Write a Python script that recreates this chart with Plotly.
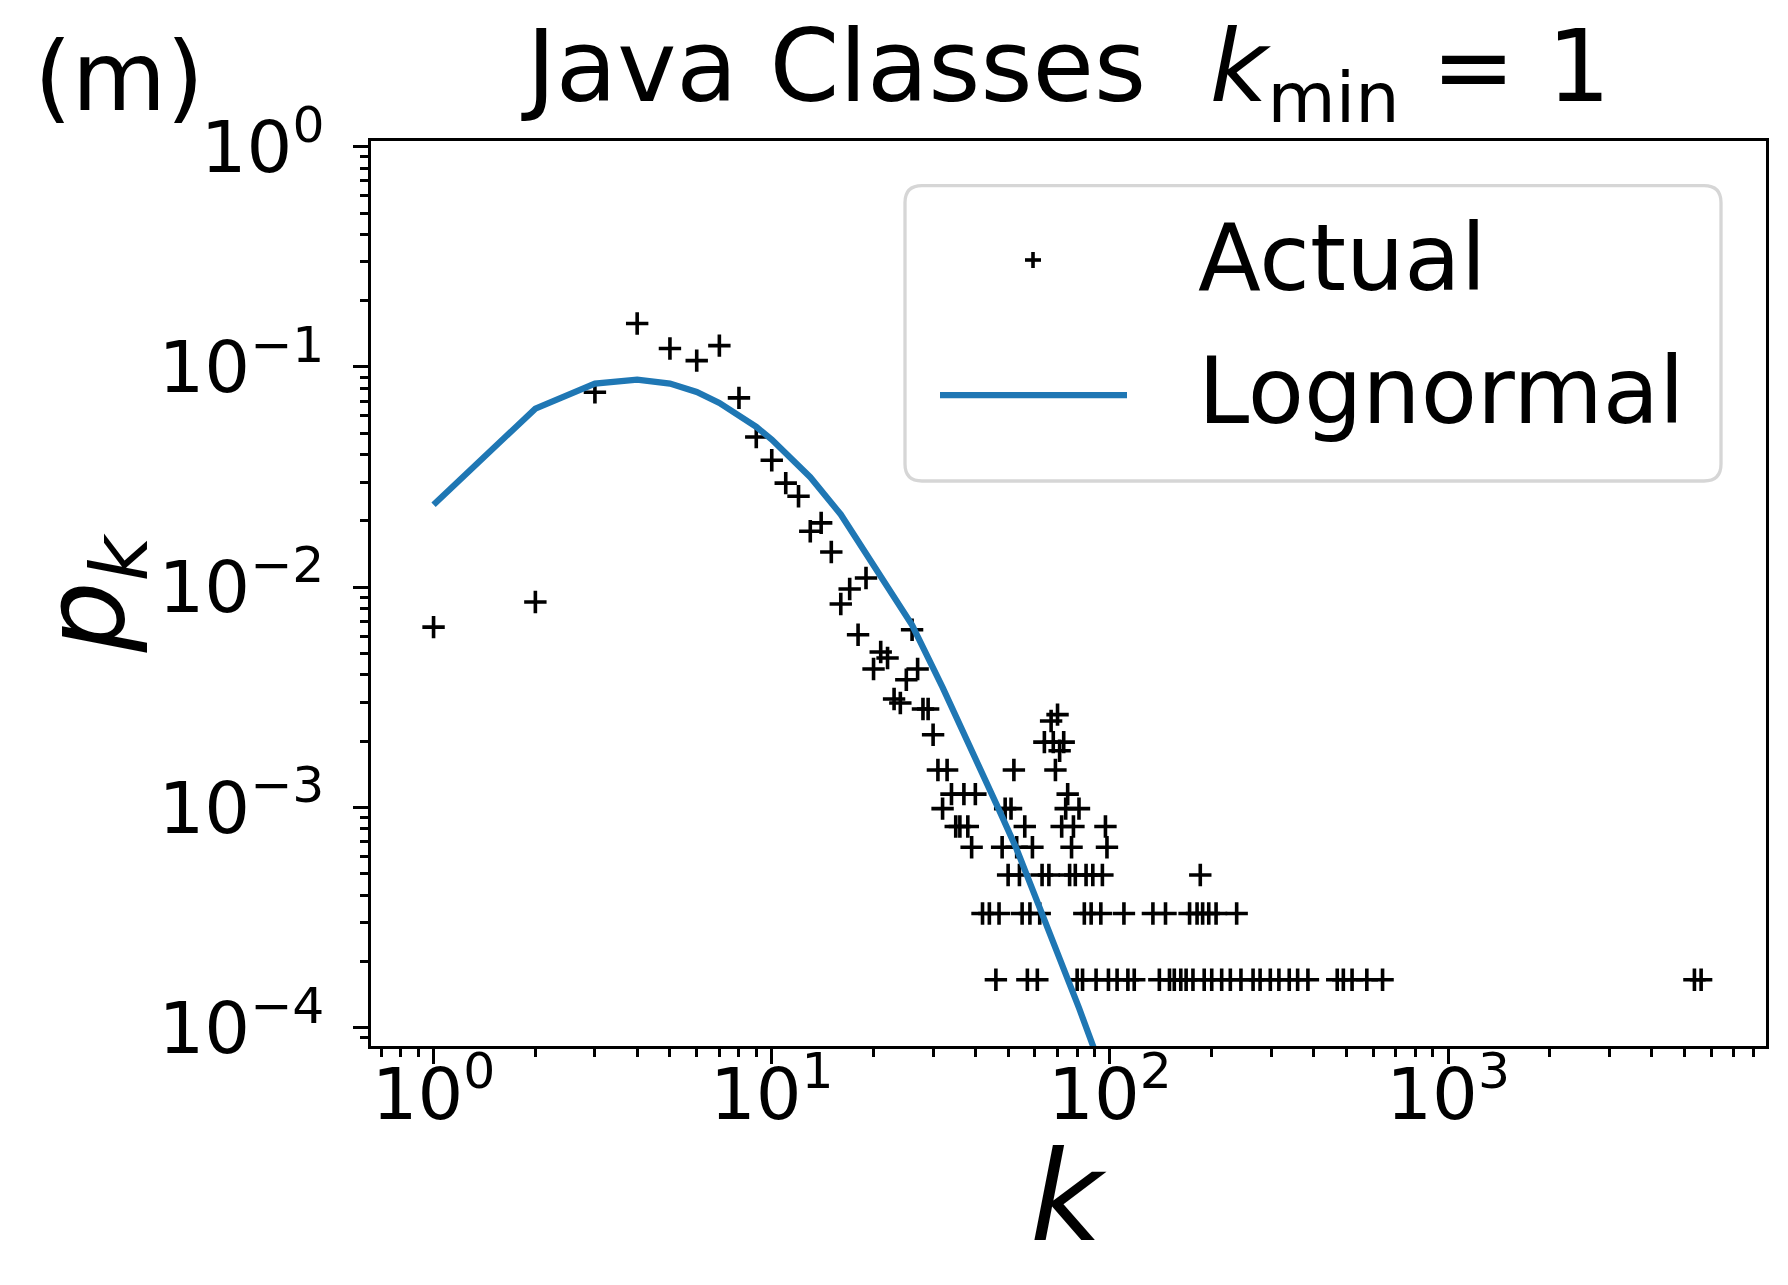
import plotly.graph_objects as go

# degree k and fraction of classes p_k
actual_k = [1, 2, 3, 4, 5, 6, 7, 8, 9, 10, 11, 12, 13, 14, 15, 16, 17, 18, 19, 20,
            21, 22, 23, 24, 25, 26, 27, 28, 29, 30, 31, 32, 33, 34, 35, 36, 37, 38, 39, 40,
            42, 44, 46, 47, 48, 49, 50, 51, 52, 53, 54, 55, 56, 57, 58, 59, 61, 62, 63, 64,
            66, 67, 68, 69, 70, 71, 72, 73, 74, 75, 76, 77, 78, 79, 80, 81, 83, 84, 85, 88,
            89, 91, 94, 95, 97, 98, 99, 105, 110, 113, 118, 134, 140, 146, 150, 155, 162, 168,
            172, 176, 181, 185, 188, 190, 196, 200, 206, 214, 227, 237, 244, 265, 278, 298,
            316, 339, 359, 385, 470, 490, 520, 575, 640, 5350, 5600]
actual_p = [6.59e-3, 8.57e-3, 0.0768, 0.1575, 0.1213, 0.1069, 0.125, 0.0724, 0.0481, 0.0377,
            0.0297, 0.0259, 0.01795, 0.0196, 0.01445, 8.39e-3, 9.82e-3, 6.08e-3, 0.01101, 4.25e-3,
            5.08e-3, 4.77e-3, 3.11e-3, 2.98e-3, 3.80e-3, 6.41e-3, 4.25e-3, 2.80e-3, 2.80e-3, 2.14e-3,
            1.48e-3, 9.88e-4, 1.48e-3, 1.15e-3, 8.2e-4, 8.2e-4, 1.15e-3, 8.2e-4, 6.6e-4, 1.15e-3,
            3.3e-4, 3.3e-4, 1.65e-4, 3.3e-4, 6.6e-4, 9.88e-4, 4.94e-4, 9.88e-4, 1.48e-3, 6.6e-4,
            4.94e-4, 3.3e-4, 8.2e-4, 1.65e-4, 3.3e-4, 6.6e-4, 1.65e-4, 3.3e-4, 4.94e-4, 1.98e-3,
            4.94e-4, 2.47e-3, 1.98e-3, 1.48e-3, 2.64e-3, 1.81e-3, 8.2e-4, 1.98e-3, 9.88e-4, 1.15e-3,
            4.94e-4, 6.6e-4, 8.2e-4, 4.94e-4, 1.65e-4, 9.88e-4, 1.65e-4, 3.3e-4, 4.94e-4, 3.3e-4,
            4.94e-4, 1.65e-4, 3.3e-4, 4.94e-4, 8.2e-4, 6.6e-4, 1.65e-4, 1.65e-4, 3.3e-4, 1.65e-4,
            1.65e-4, 3.3e-4, 1.65e-4, 3.3e-4, 1.65e-4, 1.65e-4, 1.65e-4, 1.65e-4,
            3.3e-4, 1.65e-4, 3.3e-4, 4.94e-4, 3.3e-4, 1.65e-4, 3.3e-4, 1.65e-4, 3.3e-4, 1.65e-4,
            1.65e-4, 3.3e-4, 1.65e-4, 1.65e-4, 1.65e-4, 1.65e-4,
            1.65e-4, 1.65e-4, 1.65e-4, 1.65e-4, 1.65e-4, 1.65e-4, 1.65e-4, 1.65e-4, 1.65e-4,
            1.65e-4, 1.65e-4]

# lognormal fit curve, read at a set of k values
lognorm_k = [1, 2, 3, 4, 5, 6, 7, 8, 9, 10, 13, 16, 20, 26, 32, 38, 47, 53, 63, 76, 81, 90]
lognorm_p = [0.0237, 0.0647, 0.0841, 0.0877, 0.0841, 0.0770, 0.0687, 0.0598, 0.0535, 0.0468,
             0.0316, 0.0214, 0.0126, 0.00673, 0.00351, 0.00200, 0.000975, 0.000646,
             0.000331, 0.000158, 0.000123, 0.0000794]

x_ticks = [1, 10, 100, 1000]
x_ticktext = ["10<sup>0</sup>", "10<sup>1</sup>", "10<sup>2</sup>", "10<sup>3</sup>"]
y_ticks = [1e-4, 1e-3, 1e-2, 1e-1, 1]
y_ticktext = ["10<sup>\u22124</sup>", "10<sup>\u22123</sup>", "10<sup>\u22122</sup>",
              "10<sup>\u22121</sup>", "10<sup>0</sup>"]

x_minor = [m * 10 ** e for e in range(-1, 4) for m in range(2, 10) if 0.65 < m * 10 ** e < 8700]
y_minor = [m * 10.0 ** e for e in range(-5, 1) for m in range(2, 10) if 8.3e-5 < m * 10.0 ** e < 1.06]

W, H = 1788, 1285
L, R, T, B = 363, 30, 133, 247
PW, PH = W - L - R, H - T - B
FONT = "DejaVu Sans"
BLUE = "#1f77b4"


def px(X):
    return (X - L) / PW


def py(Y):
    return (H - B - Y) / PH


fig = go.Figure()
fig.add_trace(go.Scatter(
    x=actual_k, y=actual_p, mode="markers", name="Actual",
    marker=dict(symbol="cross-thin", size=16, color="black", line=dict(width=3.6, color="black")),
))
fig.add_trace(go.Scatter(
    x=lognorm_k, y=lognorm_p, mode="lines", name="Lognormal",
    line=dict(color=BLUE, width=6.25),
))

axis_common = dict(
    type="log", showgrid=False, zeroline=False,
    showline=True, linecolor="black", linewidth=3.3, mirror=True,
    ticks="outside", ticklen=15, tickwidth=3.3, tickcolor="black",
    tickfont=dict(family=FONT, size=72, color="black"),
)

fig.update_xaxes(
    **axis_common, range=[-0.185, 3.94], ticklabelstandoff=-32,
    tickmode="array", tickvals=x_ticks, ticktext=x_ticktext,
    minor=dict(ticks="outside", ticklen=8, tickwidth=2.5, tickcolor="black",
               tickmode="array", tickvals=x_minor, showgrid=False),
)
fig.update_yaxes(
    **axis_common, range=[-4.083, 0.026], ticklabelstandoff=14,
    tickmode="array", tickvals=y_ticks, ticktext=y_ticktext,
    minor=dict(ticks="outside", ticklen=8, tickwidth=2.5, tickcolor="black",
               tickmode="array", tickvals=y_minor, showgrid=False),
)

# legend drawn by hand so the line sample matches the reference length
bx, by, hw, hh, r = 1305, 325.3, 408, 147.7, 17
box = (f"M{-hw + r},{-hh} L{hw - r},{-hh} Q{hw},{-hh} {hw},{-hh + r} "
       f"L{hw},{hh - r} Q{hw},{hh} {hw - r},{hh} L{-hw + r},{hh} "
       f"Q{-hw},{hh} {-hw},{hh - r} L{-hw},{-hh + r} Q{-hw},{-hh} {-hw + r},{-hh} Z")
shapes = [
    dict(type="path", path=box, xref="paper", yref="paper", xsizemode="pixel", ysizemode="pixel",
         xanchor=px(bx), yanchor=py(by), line=dict(color="#d6d6d6", width=3.3),
         fillcolor="rgba(255,255,255,0.8)", layer="above"),
    dict(type="line", xref="paper", yref="paper", xsizemode="pixel", ysizemode="pixel",
         xanchor=px(1025), yanchor=py(252), x0=-8, x1=8, y0=0, y1=0,
         line=dict(color="black", width=3.6), layer="above"),
    dict(type="line", xref="paper", yref="paper", xsizemode="pixel", ysizemode="pixel",
         xanchor=px(1025), yanchor=py(252), x0=0, x1=0, y0=-8, y1=8,
         line=dict(color="black", width=3.6), layer="above"),
    dict(type="line", xref="paper", yref="paper", x0=px(932), x1=px(1119), y0=py(387), y1=py(387),
         line=dict(color=BLUE, width=6.25), layer="above"),
]

annotations = [
    dict(text="Actual", x=px(1188), y=py(251), xref="paper", yref="paper",
         xanchor="left", yanchor="middle", showarrow=False,
         font=dict(family=FONT, size=92, color="black")),
    dict(text="Lognormal", x=px(1188), y=py(383), xref="paper", yref="paper",
         xanchor="left", yanchor="middle", showarrow=False,
         font=dict(family=FONT, size=92, color="black")),
    dict(text="(m)", x=px(24), y=py(68), xref="paper", yref="paper",
         xanchor="left", yanchor="middle", showarrow=False,
         font=dict(family=FONT, size=97, color="black")),
    dict(text="<i>k</i>", x=0.5, y=py(1188), xref="paper", yref="paper",
         xanchor="center", yanchor="middle", showarrow=False,
         font=dict(family=FONT, size=125, color="black")),
    dict(text="<i>p<sub>k</sub></i>", x=px(84), y=0.5, xref="paper", yref="paper",
         xanchor="center", yanchor="middle", textangle=-90, showarrow=False,
         font=dict(family=FONT, size=112, color="black")),
]

fig.update_layout(
    width=W, height=H,
    margin=dict(l=L, r=R, t=T, b=B, autoexpand=False),
    paper_bgcolor="white", plot_bgcolor="white",
    showlegend=False,
    title=dict(text="Java Classes  <i>k</i><sub>min</sub> = 1", x=0.5, xref="paper", xanchor="center",
               y=1 - 58 / H, yref="container", yanchor="middle",
               font=dict(family=FONT, size=100, color="black")),
    shapes=shapes, annotations=annotations,
)

fig.write_html("out.html")
